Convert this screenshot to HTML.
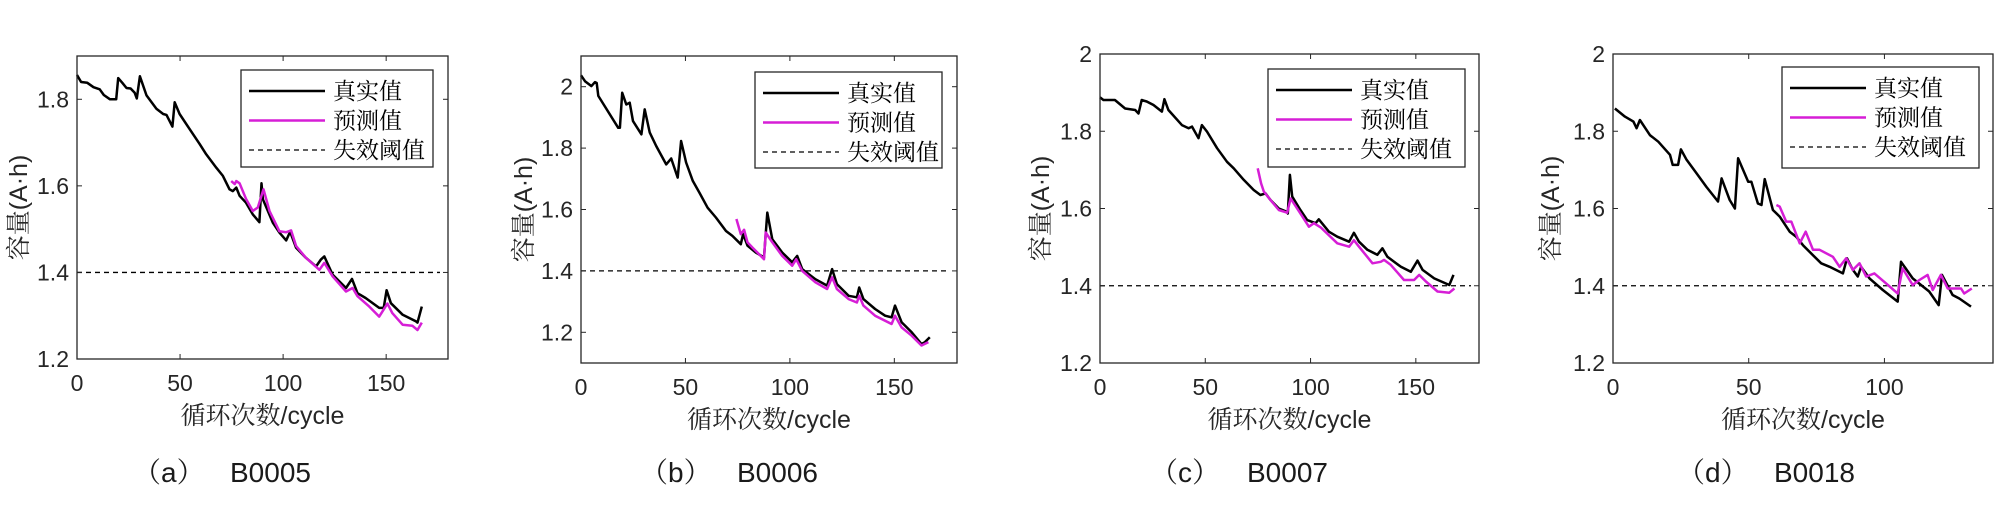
<!DOCTYPE html>
<html><head><meta charset="utf-8">
<style>
html,body{margin:0;padding:0;background:#fff;}
svg{display:block;}
text{fill:#262626;}
.tick{font-family:"Liberation Sans",sans-serif;font-size:23px;}
.title{font-family:"Liberation Sans","Noto Serif CJK SC",serif;font-size:25px;}
.leg{font-family:"Liberation Serif","Noto Serif CJK SC",serif;font-size:23px;fill:#000;}
.cap{font-family:"Liberation Sans","Noto Serif CJK SC",sans-serif;font-size:28px;fill:#1a1a1a;}
</style></head>
<body>
<svg id="fig" width="2006" height="510" viewBox="0 0 2006 510" xmlns="http://www.w3.org/2000/svg"></svg>
<script>
// ---- Panel (a) B0005 ----
const aTrueX=[0,2,5,8,11,13,16,19,20,22,24,26,28,29,30.5,33.7,38.5,41.8,43.4,46.3,47.4,49.8,54.7,59.5,62.7,67.6,70.8,74,75.6,77.3,78.9,82,85.3,88.5,89.5,90.2,95,98.2,101.5,103.4,106.3,111,116,118.4,120,124,130.5,133.4,136.1,140,146.6,148.8,150.2,152.3,158,164.4,165.2,167.3];
const aTrueY=[1.856,1.84,1.838,1.828,1.823,1.81,1.80,1.80,1.849,1.838,1.826,1.825,1.815,1.802,1.853,1.809,1.778,1.766,1.764,1.737,1.793,1.766,1.731,1.697,1.673,1.642,1.623,1.592,1.588,1.596,1.577,1.561,1.534,1.516,1.606,1.569,1.515,1.492,1.474,1.494,1.457,1.434,1.414,1.430,1.437,1.395,1.364,1.385,1.352,1.341,1.318,1.318,1.359,1.329,1.302,1.287,1.284,1.321];
const aPredX=[74.8,76.5,77.3,78.9,82.1,85.3,87.7,90.5,93.4,98.2,101.5,103.9,106.3,111,117.6,120,124,130.5,133.7,136.1,141.8,146.6,150.6,153,158,162.7,165.2,167.3];
const aPredY=[1.611,1.604,1.611,1.606,1.569,1.542,1.550,1.592,1.542,1.495,1.493,1.497,1.461,1.434,1.406,1.422,1.391,1.356,1.364,1.345,1.321,1.298,1.328,1.306,1.279,1.277,1.267,1.284];
const aYTicks=[1.2,1.4,1.6,1.8];
const aYTickLabels=["1.2","1.4","1.6","1.8"];
const aXTicks=[0,50,100,150];
// ---- Panel (b) B0006 ----
const bTrueX=[0,1.9,5,6.7,7.5,8.3,17.8,18.6,19.7,21.7,23.3,24.9,28.9,30.5,32.9,36,40.8,43.2,46.3,47.9,50.3,53.5,56.7,60.6,64.6,69.4,72.5,76.5,77.6,79.7,83.7,87.6,89.2,91.6,96.3,101.1,103.5,105.9,112.2,117.8,120.2,122.5,128.1,132.1,133.2,135.2,140.8,145.6,148.7,150.3,153.5,158.3,163,164.5,167];
const bTrueY=[2.037,2.018,2.002,2.015,2.012,1.97,1.866,1.866,1.980,1.942,1.948,1.888,1.845,1.926,1.851,1.807,1.747,1.766,1.704,1.823,1.753,1.693,1.655,1.606,1.574,1.530,1.514,1.487,1.520,1.482,1.460,1.444,1.590,1.503,1.460,1.428,1.449,1.406,1.373,1.352,1.406,1.357,1.319,1.314,1.346,1.308,1.276,1.254,1.249,1.287,1.233,1.2,1.162,1.167,1.184];
const bPredX=[74.4,76.5,78.1,79.7,82.1,87.6,88.4,91.6,96.3,101.1,103,105.9,112.2,117.8,120.2,122.5,128.1,132.1,133.2,135.2,140.8,148.7,150.3,153.5,158.3,163,166.3];
const bPredY=[1.569,1.520,1.534,1.493,1.476,1.438,1.525,1.493,1.449,1.417,1.438,1.400,1.363,1.341,1.379,1.341,1.308,1.297,1.319,1.287,1.254,1.227,1.254,1.216,1.189,1.157,1.168];
const bYTicks=[1.2,1.4,1.6,1.8,2.0];
const bYTickLabels=["1.2","1.4","1.6","1.8","2"];
const bXTicks=[0,50,100,150];
// ---- Panel (c) B0007 ----
const cTrueX=[0,1.6,7.1,11.9,16.7,18.3,19.8,22.2,25.4,29.4,30.6,32.5,38.9,42.1,43.7,46.8,48.4,50.8,55.6,60.3,63.5,68.3,73,76.2,78.6,81,84.9,88.6,89.2,90.2,91.3,95.2,98.4,102.4,103.9,108.7,112.7,118.3,120.6,123,127,131.7,134.1,136.5,142.9,147.6,150.8,153.2,158.7,165.9,167.9];
const cTrueY=[1.888,1.881,1.881,1.859,1.855,1.846,1.881,1.877,1.868,1.851,1.883,1.855,1.816,1.808,1.812,1.782,1.816,1.799,1.756,1.721,1.704,1.674,1.648,1.635,1.639,1.622,1.600,1.592,1.587,1.687,1.631,1.596,1.570,1.562,1.572,1.540,1.527,1.514,1.537,1.514,1.493,1.480,1.497,1.475,1.449,1.436,1.465,1.441,1.419,1.402,1.428];
const cPredX=[74.9,76.5,77.8,81,84.9,88.9,90.5,95.2,99.2,101.6,104.8,112.7,118.3,120.6,123,129.4,133.3,134.9,138.1,144.4,149.2,151.6,154.8,160.3,165.9,168.3];
const cPredY=[1.704,1.665,1.644,1.622,1.596,1.589,1.626,1.587,1.553,1.562,1.551,1.510,1.501,1.518,1.501,1.458,1.462,1.467,1.454,1.415,1.415,1.428,1.411,1.385,1.382,1.393];
const cYTicks=[1.2,1.4,1.6,1.8,2.0];
const cYTickLabels=["1.2","1.4","1.6","1.8","2"];
const cXTicks=[0,50,100,150];
// ---- Panel (d) B0018 ----
const dTrueX=[0.7,4.4,7.5,8.7,9.9,13.6,16.7,21,22,24,25,27.1,30.8,34.4,38.7,40,43,44.9,46.1,49.8,51,53.4,54.7,55.9,58.9,61.4,65.1,67.5,70,72.4,76.7,79.8,84.7,86.2,88.4,90.2,91.4,94.5,99.4,104.9,106.1,110.4,116.5,120,121.2,125.1,127.6,131.9];
const dTrueY=[1.859,1.838,1.825,1.808,1.829,1.790,1.773,1.739,1.713,1.713,1.753,1.726,1.691,1.656,1.618,1.678,1.622,1.600,1.730,1.669,1.669,1.613,1.609,1.676,1.596,1.579,1.540,1.527,1.505,1.488,1.458,1.449,1.432,1.471,1.441,1.424,1.449,1.419,1.389,1.359,1.462,1.419,1.385,1.350,1.428,1.376,1.367,1.346];
const dPredX=[60.2,61.4,63.8,65.7,68.8,71,73.7,76.1,81,83.5,85.9,88.4,90.8,93.3,96.3,100.6,104.9,106.7,110.4,112.9,115.9,117.8,120.8,123.3,128.2,129.4,132.2];
const dPredY=[1.609,1.605,1.566,1.566,1.510,1.540,1.493,1.493,1.475,1.449,1.471,1.441,1.458,1.424,1.432,1.406,1.380,1.445,1.402,1.415,1.428,1.389,1.428,1.393,1.393,1.380,1.393];
const dYTicks=[1.2,1.4,1.6,1.8,2.0];
const dYTickLabels=["1.2","1.4","1.6","1.8","2"];
const dXTicks=[0,50,100];
const threshold=1.4;

const NS="http://www.w3.org/2000/svg";
const svg=document.getElementById('fig');
function mk(tag,attrs,parent){const e=document.createElementNS(NS,tag);for(const k in attrs)e.setAttribute(k,attrs[k]);(parent||svg).appendChild(e);return e;}

const panels=[
 {id:'a',L:77,R:448,T:56,B:359,xmax:180,ymin:1.2,ymax:1.9,tx:aTrueX,ty:aTrueY,px:aPredX,py:aPredY,yt:aYTicks,ytl:aYTickLabels,xt:aXTicks,leg:[241,70,433,167],ytx:18,cp:"（a）",cb:"B0005",capx:133},
 {id:'b',L:581,R:957,T:56,B:363,xmax:180,ymin:1.1,ymax:2.1,tx:bTrueX,ty:bTrueY,px:bPredX,py:bPredY,yt:bYTicks,ytl:bYTickLabels,xt:bXTicks,leg:[755,72,942,168],ytx:523,cp:"（b）",cb:"B0006",capx:640},
 {id:'c',L:1100,R:1479,T:54,B:363,xmax:180,ymin:1.2,ymax:2.0,tx:cTrueX,ty:cTrueY,px:cPredX,py:cPredY,yt:cYTicks,ytl:cYTickLabels,xt:cXTicks,leg:[1268,69,1465,167],ytx:1040,cp:"（c）",cb:"B0007",capx:1150},
 {id:'d',L:1613,R:1993,T:54,B:363,xmax:140,ymin:1.2,ymax:2.0,tx:dTrueX,ty:dTrueY,px:dPredX,py:dPredY,yt:dYTicks,ytl:dYTickLabels,xt:dXTicks,leg:[1782,67,1979,168],ytx:1550,cp:"（d）",cb:"B0018",capx:1677}
];

panels.forEach(p=>{
  const g=mk('g',{});
  
  
  const sx=v=>p.L+(v/p.xmax)*(p.R-p.L);
  const sy=v=>p.B-(v-p.ymin)/(p.ymax-p.ymin)*(p.B-p.T);
  const th=mk('line',{x1:p.L,x2:p.R-8,y1:sy(threshold),y2:sy(threshold),stroke:'#000','stroke-width':1.3,'stroke-dasharray':'5,4'},g);
  
  
  const path=(xs,ys)=>xs.map((x,i)=>(i?'L':'M')+sx(x).toFixed(1)+','+sy(ys[i]).toFixed(1)).join('');
  const t=mk('path',{d:path(p.tx,p.ty),fill:'none',stroke:'#000','stroke-width':2.5,'stroke-linejoin':'round'},g);
  
  
  const pr=mk('path',{d:path(p.px,p.py),fill:'none',stroke:'#d61ed6','stroke-width':2.5,'stroke-linejoin':'round'},g);
  
  
  const box=mk('rect',{x:p.L,y:p.T,width:p.R-p.L,height:p.B-p.T,fill:'none',stroke:'#262626','stroke-width':1.3},g);
  
  
  p.yt.forEach((v,i)=>{
    const y=sy(v);
    mk('line',{x1:p.L,x2:p.L+5,y1:y,y2:y,stroke:'#262626','stroke-width':1},g);
    mk('line',{x1:p.R-5,x2:p.R,y1:y,y2:y,stroke:'#262626','stroke-width':1},g);
    const tl=mk('text',{x:p.L-8,y:y+8,'text-anchor':'end',class:'tick'},g);
    tl.textContent=p.ytl[i];
    
    
  });
  p.xt.forEach(v=>{
    const x=sx(v);
    mk('line',{x1:x,x2:x,y1:p.B,y2:p.B-5,stroke:'#262626','stroke-width':1},g);
    mk('line',{x1:x,x2:x,y1:p.T,y2:p.T+5,stroke:'#262626','stroke-width':1},g);
    const tl=mk('text',{x:x,y:p.B+32,'text-anchor':'middle',class:'tick'},g);
    tl.textContent=String(v);
    
    
  });
  const xt=mk('text',{x:(p.L+p.R)/2,y:p.B+65,'text-anchor':'middle',class:'title'},g);
  xt.textContent='循环次数/cycle';
  
  
  const cy=(p.T+p.B)/2;
  const yt=mk('text',{x:p.ytx,y:cy,'text-anchor':'middle',class:'title',transform:`rotate(-90 ${p.ytx} ${cy})`,dy:9},g);
  yt.textContent='容量(A·h)';
  
  
  const [lx,ly,lr,lb]=p.leg;
  const lg=mk('g',{},g);
  
  
  mk('rect',{x:lx,y:ly,width:lr-lx,height:lb-ly,fill:'#fff',stroke:'#262626','stroke-width':1.3},lg);
  const rows=[['真实值','#000','none',2.5],['预测值','#d61ed6','none',2.5],['失效阈值','#000','5,4',1.3]];
  rows.forEach((r,i)=>{
    const y=ly+21+i*29.5;
    mk('line',{x1:lx+8,x2:lx+84,y1:y,y2:y,stroke:r[1],'stroke-width':r[3],'stroke-dasharray':r[2]},lg);
    const tx=mk('text',{x:lx+92,y:y+8,class:'leg'},lg);
    tx.textContent=r[0];
    
    
  });
  const cap=mk('text',{x:p.capx,y:482,class:'cap'},g);
  cap.textContent=p.cp;
  
  
  const cap2=mk('text',{x:p.capx+97,y:482,class:'cap'},g);
  cap2.textContent=p.cb;
  
  
});
</script>
</body></html>
